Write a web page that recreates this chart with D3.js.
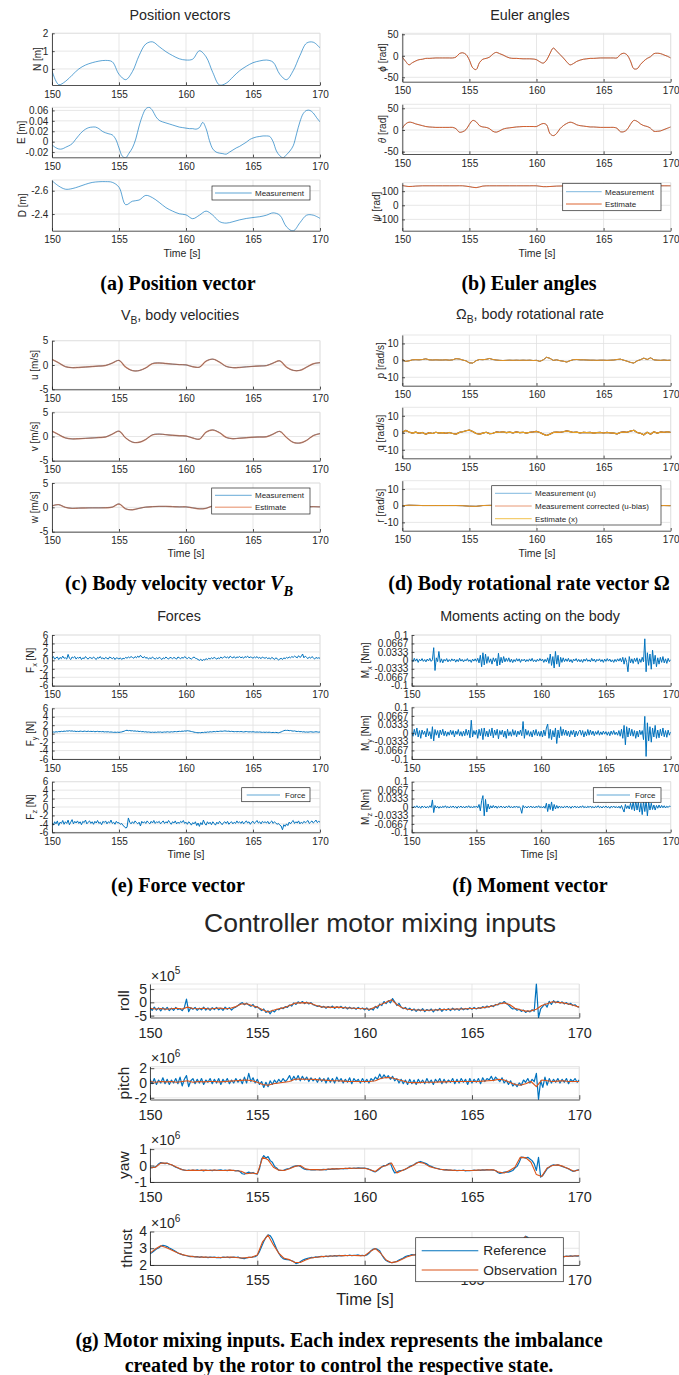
<!DOCTYPE html>
<html><head><meta charset="utf-8">
<script src="https://cdn.jsdelivr.net/npm/d3@7"></script>
<style>body{margin:0;background:#fff;}svg{display:block;}</style>
</head><body>
<script>
// ================= DATA =================
const timeTicks = [150,155,160,165,170];

// (a) position, 0.5 s / 0.25 s samples
const posN = [-0.1,-0.88,-0.7,-0.35,0.0,0.22,0.35,0.44,0.48,0.4,-0.3,-0.6,-0.15,0.75,1.4,1.52,1.25,0.97,0.75,0.57,0.5,0.55,1.02,0.68,-0.2,-0.9,-0.8,-0.45,-0.1,0.15,0.35,0.45,0.5,0.38,-0.3,-0.6,-0.1,0.75,1.45,1.5,1.18];
const posE = [
 -0.006,-0.011,-0.014,-0.014, -0.011,-0.008,-0.004,0.004, 0.012,0.019,0.024,0.027, 0.028,0.028,0.025,0.02,
 0.017,0.015,0.013,0.005, -0.012,-0.028,-0.031,-0.022, -0.012,0.005,0.03,0.05, 0.063,0.066,0.06,0.048,
 0.041,0.038,0.036,0.034, 0.032,0.03,0.028,0.027, 0.026,0.025,0.025,0.024, 0.027,0.037,0.025,0.002,
 -0.014,-0.02,-0.022,-0.023, -0.024,-0.02,-0.016,-0.012, -0.009,-0.005,-0.001,0.004, 0.007,0.009,0.01,0.011,
 0.011,0.01,0.0,-0.018, -0.027,-0.031,-0.025,-0.018, -0.008,0.015,0.038,0.054, 0.06,0.06,0.055,0.046, 0.038];
const posD = [-2.686,-2.64,-2.613,-2.618,-2.635,-2.655,-2.671,-2.677,-2.678,-2.672,-2.63,-2.48,-2.51,-2.52,-2.56,-2.54,-2.5,-2.455,-2.425,-2.402,-2.393,-2.36,-2.39,-2.425,-2.39,-2.335,-2.322,-2.334,-2.35,-2.362,-2.37,-2.377,-2.39,-2.41,-2.39,-2.29,-2.255,-2.325,-2.39,-2.39,-2.363];

// (b) Euler angles
const eulPhi = [
 -3,-13,-21,-16, -12,-9,-8,-6, -6,-5.5,-5,-5, -5,-5,-5,-5, -3,5,7,3,
 -10,-28,-32,-16, -8,-6,-3,4, 8,5,2,-2, -5,-6,-6,-6.5, -7,-7,-7,-7.5,
 -9,-14,-17,-10, 5,18,11,3, -5,-14,-21,-18, -13,-10,-8,-7, -6,-6,-5.5,-5,
 -5,-5,-5,-5, -5,3,6,2, -12,-30,-30,-20, -12,-6,-2,5, 6,5,2,-1, -5];
const eulTheta = [
 4,14,18,17, 14,12,10,8, 7,6.5,6,6, 6,6,6,6, 3,-5,-4,1,
 13,22,19,10, 7,6,3,-3, -5,-2,2,4, 5,6,7,7.5, 8,8,8,8,
 8,12,15,12, -8,-13,-8,3, 10,15,18,16, 12,10,9,8, 7,7,6.5,6,
 6,6,6,6, 4,-4,-4,1, 13,22,20,14, 10,8,4,-3, -3,-2,1,4, 7];
const eulPsi = [140,133,136,138,138,138,138,138,138,138,132,125,136,138,138,138,138,138,138,138,138,132,133,136,137,138,138,138,138,138,138,138,138,138,137,137,138,138,138,138,138];

// (c) body velocities, 0.5 s samples
const velU = [1.15,0.45,-0.35,-0.55,-0.5,-0.42,-0.32,-0.22,-0.1,0.4,0.95,-0.45,-1.15,-1.15,-0.6,0.3,0.42,0.3,0.18,0.08,0.02,-0.35,-0.45,0.8,1.2,0.6,-0.3,-0.55,-0.5,-0.38,-0.28,-0.2,-0.12,0.4,0.85,-0.45,-1.1,-1.1,-0.45,0.25,0.48];
const velV = [1.1,0.4,-0.3,-0.5,-0.45,-0.38,-0.3,-0.22,-0.1,0.5,1.1,-0.3,-1.15,-1.2,-0.6,0.35,0.5,0.38,0.25,0.15,0.1,-0.3,-0.55,0.9,1.35,0.8,-0.2,-0.45,-0.35,-0.25,-0.15,-0.1,-0.05,0.5,1.05,-0.2,-1.2,-1.35,-0.8,0.2,0.6];
const velW = [0.3,0.55,0.0,-0.2,-0.15,-0.12,-0.1,-0.1,-0.08,0.05,0.7,-0.3,-0.5,-0.2,0.05,0.15,0.2,0.2,0.15,0.1,0.1,-0.1,-0.3,-0.2,0.3,0.3,0.1,0.0,-0.05,-0.05,-0.05,0.0,0.0,0.1,0.2,-0.1,0.0,-0.1,0.1,0.15,0.1];

// (d) body rotational rates
const rateP = [
 0.5,-0.6,-0.3,0.3, 0.4,0.3,0.5,0.9, 0.3,0.2,0.3,0.2, 0.2,0.3,0.1,0.3, 1.0,0.8,0.2,-0.3,
 -1.5,-1.6,-0.2,0.5, 0.4,0.6,1.1,0.5, 0.2,0.0,-0.1,0.0, 0.1,0.0,0.1,0.0, 0.1,0.0,0.1,-0.1,
 0.0,-0.6,0.3,1.8, 1.2,0.0,0.3,-0.2, -0.5,-1.0,-0.2,0.4, 0.5,0.3,0.3,0.2, 0.1,0.1,0.0,0.1,
 0.1,0.0,0.1,0.2, 0.5,0.7,0.1,-0.5, -1.2,-1.6,-0.3,0.4, 1.3,0.5,1.5,0.3, 0.1,0.0,0.2,0.0, 0.1];
const rateQ = [
 0.3,1.4,0.5,-0.2, 0.4,-0.3,0.2,-0.9, 0.1,-0.4,0.3,-0.2, 0.1,-0.3,0.2,-0.4, -0.8,0.2,0.6,1.2,
 1.6,0.8,-0.4,-0.8, -0.2,0.3,-0.5,-0.3, 0.5,0.2,0.6,0.1, 0.4,0.0,0.5,0.1, 0.3,-0.2,0.3,0.5,
 0.8,0.2,-0.8,-1.6, -0.8,0.2,0.4,0.3, 0.6,1.1,0.7,0.2, 0.4,-0.1,0.3,0.1, 0.2,-0.2,0.1,0.2,
 -0.1,0.2,0.0,-0.2, -0.6,0.2,0.5,0.3, 1.0,1.5,0.2,-0.3, -1.2,0.3,-0.8,0.6, -0.2,0.5,0.3,0.6, 0.2];
const rateR = [0,0.3,0.2,0.1,0.1,0.1,0.1,0.1,0.1,0.0,-0.3,-0.4,0.1,0.2,0.2,0.1,0.1,0.1,0.1,0.1,0.0,0.1,0.2,0.1,0.1,0.1,0.1,0.1,0.0,0.1,0.1,0.1,0.1,0.1,0.0,0.1,0.1,0.1,0.0,0.1,0.0];

// (e) forces [N], 0.1 s samples
const forceX = [
 0.5,0.9,0.3,0.6,0.8,0.2,0.7,0.4,1.0,0.5, 0.6,0.3,1.4,0.5,0.2,0.8,0.6,0.9,0.3,0.7,
 0.5,0.8,0.2,0.6,0.4,0.9,0.5,0.3,0.7,0.6, 0.4,0.8,0.5,0.2,0.7,0.5,0.9,0.4,0.6,0.3,
 0.7,0.5,0.3,0.8,0.6,0.4,0.7,0.2,0.6,0.5, 0.3,0.6,0.2,0.5,0.4,0.7,0.5,0.8,0.6,0.9,
 0.7,0.5,0.9,0.6,1.0,0.7,1.2,0.8,0.6,0.9, 0.5,0.7,0.3,0.6,0.4,0.8,0.5,0.3,0.6,0.4,
 0.7,0.5,0.2,0.6,0.4,0.8,0.5,0.3,0.7,0.6, 0.4,0.7,0.5,0.3,0.8,0.6,0.4,0.7,0.5,0.9,
 0.6,0.4,0.7,0.5,0.3,0.6,0.8,0.5,0.4,0.2, 0.0,0.3,-0.1,0.2,0.1,0.4,0.2,0.5,0.3,0.6,
 0.4,0.7,0.5,0.3,0.6,0.4,0.8,0.5,0.7,0.9, 0.6,0.8,0.5,1.0,0.7,0.6,0.9,0.5,0.8,0.7,
 0.9,0.6,0.8,0.5,0.9,0.7,1.0,0.6,0.8,0.7, 0.5,0.8,0.6,0.9,0.5,0.7,0.4,0.8,0.6,0.5,
 0.7,0.4,0.6,0.3,0.7,0.5,0.2,0.6,0.4,0.1, 0.3,0.5,0.2,0.6,0.4,0.7,0.5,0.8,0.6,0.9,
 0.7,1.0,0.8,0.6,1.1,0.7,0.9,1.5,0.6,1.0, 0.7,0.4,0.8,0.5,0.9,0.6,0.3,0.7,0.5,0.6, 0.5];
const forceY = [
 0.3,0.4,0.35,0.45,0.4,0.5,0.45,0.55,0.5,0.6, 0.55,0.65,0.6,0.7,0.6,0.65,0.55,0.6,0.5,0.55,
 0.5,0.6,0.55,0.5,0.6,0.55,0.5,0.6,0.5,0.55, 0.5,0.55,0.45,0.5,0.55,0.45,0.5,0.45,0.5,0.4,
 0.45,0.4,0.45,0.35,0.4,0.35,0.3,0.35,0.3,0.35, 0.3,0.35,0.4,0.5,0.6,0.75,0.8,0.7,0.75,0.65,
 0.7,0.6,0.65,0.55,0.6,0.5,0.55,0.45,0.5,0.4, 0.45,0.35,0.4,0.35,0.3,0.35,0.3,0.35,0.3,0.4,
 0.35,0.4,0.3,0.35,0.4,0.35,0.45,0.4,0.35,0.45, 0.4,0.45,0.5,0.45,0.5,0.55,0.5,0.6,0.55,0.65,
 0.6,0.7,0.65,0.6,0.5,0.45,0.35,0.3,0.25,0.2, 0.25,0.2,0.3,0.25,0.35,0.3,0.4,0.35,0.45,0.4,
 0.45,0.5,0.45,0.55,0.5,0.55,0.6,0.55,0.6,0.65, 0.6,0.55,0.6,0.5,0.55,0.5,0.45,0.5,0.45,0.5,
 0.45,0.5,0.45,0.4,0.45,0.5,0.45,0.4,0.45,0.4, 0.45,0.4,0.35,0.4,0.35,0.4,0.35,0.3,0.35,0.3,
 0.35,0.3,0.35,0.3,0.25,0.3,0.25,0.3,0.25,0.2, 0.3,0.4,0.55,0.7,0.8,0.75,0.8,0.7,0.75,0.65,
 0.6,0.65,0.55,0.5,0.55,0.45,0.5,0.4,0.45,0.35, 0.4,0.35,0.4,0.45,0.4,0.35,0.4,0.45,0.4,0.35, 0.4];
const forceZ = [
 -3.7,-4.3,-3.5,-4.0,-3.3,-4.4,-3.6,-3.9,-3.2,-4.1, -3.5,-3.9,-3.1,-4.2,-3.6,-3.0,-4.0,-3.4,-3.8,-3.3,
 -3.9,-3.5,-4.2,-3.4,-3.7,-3.1,-4.0,-3.6,-3.3,-3.9, -3.5,-4.1,-3.4,-3.8,-3.2,-3.9,-3.6,-4.2,-3.4,-3.7,
 -3.3,-4.0,-3.5,-3.8,-3.1,-3.9,-3.6,-4.1,-3.4,-3.8, -3.7,-4.1,-3.9,-4.4,-4.6,-5.0,-4.8,-2.6,-3.6,-4.0,
 -3.5,-3.9,-3.3,-3.7,-4.0,-3.6,-4.5,-3.4,-3.8,-3.5, -3.9,-3.3,-3.7,-4.0,-3.4,-3.8,-3.2,-3.9,-3.5,-3.7,
 -3.4,-4.0,-3.6,-3.3,-3.9,-3.5,-3.8,-3.2,-3.7,-4.1, -3.5,-3.8,-3.3,-4.0,-3.6,-3.9,-3.4,-3.7,-3.2,-3.9,
 -3.6,-4.1,-3.5,-3.8,-4.3,-3.7,-4.0,-3.5,-4.4,-3.8, -4.6,-3.7,-4.2,-3.1,-3.9,-4.3,-3.5,-4.0,-3.6,-4.2,
 -3.5,-3.9,-4.3,-3.6,-4.0,-3.4,-3.8,-4.2,-3.7,-3.5, -3.9,-3.4,-4.1,-3.7,-3.5,-4.0,-3.6,-3.9,-3.3,-3.8,
 -3.5,-3.9,-3.4,-4.0,-3.6,-3.3,-3.8,-3.5,-4.1,-3.6, -3.4,-3.9,-3.6,-3.2,-3.8,-3.5,-4.0,-3.4,-3.7,-3.5,
 -3.8,-3.4,-4.0,-3.6,-3.3,-3.9,-3.5,-3.8,-4.1,-3.9, -4.3,-4.5,-5.4,-4.2,-4.6,-4.0,-4.4,-3.6,-4.0,-3.5,
 -3.2,-3.9,-3.5,-3.8,-3.3,-4.0,-3.6,-3.9,-3.4,-3.7, -3.5,-3.2,-3.9,-3.6,-3.3,-3.8,-3.5,-3.1,-3.7,-3.4, -3.6];

// (f) moments, in thousandths of Nm, 0.1 s samples
const momentXmilli = [
 2,-5,8,-3,6,-8,4,-2,7,-4, 3,-6,5,-2,8,-4,2,50,-40,10,
 -5,35,-8,6,-10,4,-3,7,-6,3, -4,6,-2,5,-7,3,-5,8,-3,4,
 -6,3,-2,7,-4,2,-8,5,-3,6, -4,8,-10,20,-25,30,-18,25,-12,15,
 -8,6,-15,10,-5,8,-22,28,-18,12, -10,15,-6,8,-4,10,-7,5,-9,3,
 -5,7,-3,6,-8,4,-2,5,-6,3, -4,6,-3,8,-5,2,-6,4,-3,7,
 -2,5,-8,4,-6,10,-12,25,-20,15, -30,35,-15,20,-25,12,-8,10,-5,6,
 -4,8,-6,3,-9,5,-2,7,-5,4, -6,3,-8,5,-3,7,-4,2,-6,8,
 -3,5,-7,4,-2,6,-5,3,-8,5, -4,7,-3,5,-6,2,-8,4,-5,6,
 -3,8,-6,12,-15,10,-8,-45,15,-10, 6,-12,8,-5,10,-15,6,-8,12,-6,
 85,-45,30,-20,25,-35,40,-15,20,-25, 10,-15,12,-8,15,-10,6,-12,8,-5, 3];
const momentYmilli = [
 5,-12,15,-8,20,-15,10,-20,12,-5, 8,-15,18,-10,6,-22,25,-30,14,-8,
 10,-18,12,-6,15,-10,8,-12,5,-8, 12,-6,10,-15,8,-5,14,-10,6,-12,
 8,-10,15,-8,12,-18,50,-15,10,-6, 12,-20,15,-10,18,-25,20,-12,8,-15,
 14,-10,20,-18,12,-8,15,-22,10,-6, 12,-15,8,-20,15,-10,6,-12,14,-8,
 10,-14,8,-6,12,-10,45,-20,15,-8, 10,-12,6,-15,12,-8,14,-10,6,-12,
 8,-15,12,-10,20,35,-20,15,-25,10, -15,20,-40,12,-18,25,-10,15,-8,12,
 -10,8,-14,10,-6,12,-15,8,-10,6, 12,-8,10,-15,6,-10,14,-8,12,-6,
 8,-10,6,-5,10,-8,5,-6,8,-4, 6,-8,5,-10,8,-5,10,-6,4,-8,
 10,-12,15,-20,30,-45,25,-15,20,-10, 15,-12,10,-20,8,-15,12,-6,10,-25,
 65,-90,40,-30,25,-35,20,-15,30,-20, 12,-18,15,-10,20,-14,10,-16,12,-8, 5];
const momentZmilli = [
 2,-4,3,-2,5,-3,2,-5,4,-2, 3,-4,2,-3,5,-2,28,-22,6,-4,
 3,-5,2,-4,3,-2,5,-3,2,-4, 3,-2,4,-3,2,-5,3,-2,4,-3,
 2,-4,3,-2,5,-3,2,-4,3,-2, 4,-3,10,-15,25,45,-35,30,-20,12,
 -8,5,-4,6,-3,4,-5,3,-2,4, -3,2,-4,3,-2,5,-3,2,-4,3,
 -2,4,-3,2,-5,-25,6,-3,2,-4, 3,-2,4,-3,2,-4,3,-2,5,-3,
 2,-4,3,-5,15,-18,12,-10,20,-15, 10,-8,6,-5,4,-3,2,-4,3,-2,
 4,-3,2,-5,3,-2,4,-3,2,-4, 3,-2,5,-3,2,-4,3,-2,4,-3,
 2,-4,3,-2,5,-3,2,-4,3,-2, 4,-3,2,-5,3,-2,4,-3,2,-4,
 3,-5,6,-8,-20,10,-6,5,-8,15, -10,20,-15,25,-12,18,-20,15,-30,22,
 -18,25,-35,20,-12,15,-10,8,-12,6, -5,8,-4,6,-3,5,-4,3,-2,4, 2];
const momentTickValues = [-0.1,-0.0667,-0.0333,0,0.0333,0.0667,0.1];
const momentTickLabels = ["-0.1","-0.0667","-0.0333","0","0.0333","0.0667","0.1"];

// (g) motor mixing inputs (roll in 1e5, others in 1e6)
const rollObs = [
 -2.2,-2.5,-2.3,-2.6, -2.4,-2.2,-2.5,-1.8, -2.3,-2.4,-2.2,-2.5, -2.3,-2.1,-2.4,-2.2, -1.6,-0.6,-0.5,-1.2,
 -1.8,-2.8,-3.6,-3.0, -2.4,-2.0,-1.2,-0.3, -0.2,-0.1,-0.4,-1.2, -1.7,-1.8,-1.9,-1.8, -2.0,-2.1,-2.2,-2.3,
 -2.4,-2.6,-1.8,-0.8, 0.0,1.0,-0.8,-2.0, -2.6,-2.8,-2.9,-3.0, -3.0,-2.9,-2.8,-2.7, -2.6,-2.5,-2.5,-2.4,
 -2.3,-2.2,-2.0,-1.7, -1.3,-0.6,-0.2,-0.8, -2.2,-2.8,-3.3,-3.2, -2.6,-1.2,-0.5,0.2, 0.0,-0.2,-0.6,-1.2, -1.8];
const rollRef = [
 -2.0,-3.0,-1.8,-2.9,-2.1,-3.2,-2.0,-2.8,-1.9,-3.1, -2.2,-3.0,-1.9,-2.7,-2.4,-3.1,-2.0,1.2,-3.5,-2.0,
 -2.6,-1.9,-3.0,-2.2,-2.8,-1.8,-2.9,-2.1,-3.0,-2.0, -2.7,-1.9,-2.8,-2.2,-3.0,-1.8,-2.6,-2.0,-2.9,-2.1,
 -1.8,-1.2,-0.5,-0.1,-0.9,-0.3,-1.0,-1.5,-0.8,-2.0, -1.6,-2.4,-3.1,-2.5,-3.8,-3.2,-4.3,-3.0,-3.6,-2.6,
 -2.8,-2.1,-2.4,-1.6,-1.9,-1.0,-1.4,-0.2,-0.8,0.2, -0.3,0.3,-0.5,0.1,-0.6,-0.1,-0.9,-1.2,-1.5,-1.3,
 -1.9,-1.5,-2.2,-1.6,-2.0,-1.4,-2.3,-1.6,-2.1,-1.5, -2.3,-1.7,-2.5,-1.8,-2.4,-2.0,-2.6,-1.9,-2.5,-2.1,
 -2.8,-2.1,-3.0,-2.3,-2.9,-1.5,-2.2,-0.6,-1.2,0.3, -0.5,0.6,-0.2,1.4,0.2,-1.2,-0.4,-1.8,-2.4,-1.9,
 -2.8,-2.2,-3.1,-2.5,-3.4,-2.6,-3.2,-2.4,-3.5,-2.7, -3.2,-2.5,-3.6,-2.6,-3.1,-2.3,-3.4,-2.5,-3.0,-2.4,
 -3.1,-2.2,-2.9,-2.4,-3.0,-2.1,-2.8,-2.3,-2.7,-2.0, -2.6,-1.9,-2.5,-2.0,-2.3,-1.6,-2.1,-1.4,-1.8,-1.2,
 -1.6,-0.8,-1.0,-0.2,-0.5,0.3,-0.4,-1.0,-1.9,-2.5, -2.3,-3.0,-2.6,-3.4,-2.9,-3.8,-3.2,-3.6,-2.8,-3.3,
 7.0,-5.7,-2.5,-1.5,-0.6,-1.8,0.4,-0.8,0.6,-0.2, 0.4,-0.3,0.2,-0.6,-0.1,-0.8,-0.4,-1.2,-0.9,-1.6, -1.8];
const pitchObs = [
 0.2,0.1,0.2,0.15, 0.2,0.1,0.2,0.3, 0.1,0.2,0.15,0.2, 0.2,0.15,0.2,0.25, 0.3,0.35,0.4,0.3,
 0.1,-0.2,-0.3,-0.1, 0.0,0.1,0.2,0.5, 0.55,0.5,0.5,0.45, 0.4,0.35,0.3,0.3, 0.25,0.2,0.2,0.2,
 0.2,0.2,0.3,0.6, 0.75,0.7,0.5,0.3, 0.1,0.05,0.05,0.1, 0.1,0.1,0.15,0.15, 0.2,0.2,0.2,0.2,
 0.2,0.2,0.25,0.3, 0.35,0.5,0.4,0.1, -0.2,-0.3,-0.1,0.2, -0.5,0.4,0.3,0.2, 0.25,0.3,0.2,0.2, 0.2];
const pitchRef = [
 0.5,-0.1,0.6,-0.2,0.4,0.0,0.7,-0.1,0.5,-0.2, 0.4,0.0,0.6,-0.1,0.8,-0.4,0.5,1.0,-0.5,0.3,
 0.6,-0.1,0.5,0.0,0.6,-0.2,0.4,0.1,0.6,-0.1, 0.5,0.0,0.6,-0.2,0.5,0.1,0.6,-0.1,0.4,0.0,
 0.6,0.1,0.5,-0.1,0.8,0.0,1.3,0.2,0.7,0.0, 0.5,-0.2,0.2,-0.6,0.1,-0.5,0.3,-0.2,0.4,0.0,
 0.5,0.1,0.6,0.2,0.5,1.0,0.3,0.9,0.4,1.0, 0.3,0.9,0.4,0.8,0.2,0.7,0.3,0.6,0.1,0.7,
 0.2,0.6,0.0,0.7,0.1,0.6,0.0,0.8,0.2,0.6, 0.0,0.5,0.1,0.7,-0.1,0.6,0.2,0.5,0.0,0.6,
 0.1,0.5,0.0,0.6,0.3,0.8,0.5,1.2,0.6,1.1, 0.7,1.0,0.5,0.9,0.3,0.6,0.0,0.5,-0.1,0.4,
 -0.2,0.5,-0.1,0.4,-0.2,0.5,0.0,0.4,-0.1,0.6, 0.0,0.4,-0.2,0.5,0.1,0.6,-0.1,0.5,0.0,0.4,
 0.1,0.6,-0.1,0.5,0.0,0.6,0.1,0.5,-0.2,0.6, 0.0,0.5,0.1,0.6,-0.1,0.7,0.2,0.6,0.4,0.9,
 0.3,0.8,0.5,0.2,0.7,0.0,0.4,-0.2,0.3,-0.4, -0.1,-0.5,0.0,-0.3,0.4,0.1,0.6,0.0,0.5,0.2,
 1.3,-2.2,0.3,-0.6,0.8,-0.3,0.6,0.0,0.5,0.1, 0.6,0.0,0.5,0.1,0.6,-0.1,0.5,0.2,0.6,0.1, 0.4];
const yawObs = [
 -0.15,-0.1,0.15,0.15, 0.05,-0.1,-0.25,-0.3, -0.28,-0.3,-0.28,-0.3, -0.27,-0.3,-0.3,-0.28, -0.32,-0.35,-0.5,-0.45,
 -0.5,0.5,0.35,-0.1, -0.28,-0.3,-0.2,-0.05, 0.0,-0.2,-0.25,-0.25, -0.26,-0.22,-0.2,-0.2, -0.18,-0.17,-0.16,-0.16,
 -0.16,-0.25,-0.36,-0.1, 0.0,0.15,-0.45,-0.3, -0.15,0.0,0.2,0.15, -0.05,-0.15,-0.22,-0.26, -0.28,-0.3,-0.3,-0.3,
 -0.3,-0.28,-0.27,-0.26, -0.26,-0.4,-0.45,-0.3, -0.1,0.5,0.48,0.2, -0.55,-0.66,-0.15,0.0, 0.04,-0.05,-0.2,-0.35, -0.26];
const yawRef = [
 -0.15,-0.12,-0.1,-0.05,0.1,0.18,0.15,0.12,0.15,0.08, 0.05,-0.02,-0.1,-0.15,-0.2,-0.25,-0.28,-0.3,-0.27,-0.3,
 -0.28,-0.3,-0.26,-0.3,-0.28,-0.32,-0.27,-0.3,-0.28,-0.31, -0.27,-0.3,-0.28,-0.26,-0.3,-0.28,-0.31,-0.27,-0.3,-0.29,
 -0.32,-0.3,-0.38,-0.5,-0.52,-0.45,-0.4,-0.46,-0.42,-0.5, -0.52,-0.2,0.4,0.6,0.45,0.55,0.3,0.2,-0.05,-0.15,
 -0.28,-0.3,-0.3,-0.25,-0.2,-0.18,-0.1,-0.05,-0.02,0.0, -0.05,-0.15,-0.22,-0.25,-0.24,-0.26,-0.25,-0.27,-0.24,-0.26,
 -0.25,-0.23,-0.26,-0.22,-0.24,-0.2,-0.22,-0.19,-0.21,-0.18, -0.2,-0.17,-0.19,-0.16,-0.18,-0.15,-0.17,-0.14,-0.16,-0.15,
 -0.16,-0.18,-0.22,-0.28,-0.35,-0.38,-0.3,-0.2,-0.08,0.0, 0.0,0.1,0.15,-0.2,-0.45,-0.4,-0.32,-0.3,-0.28,-0.22,
 -0.15,-0.05,0.0,0.05,0.15,0.2,0.25,0.2,0.15,0.1, 0.0,-0.05,-0.1,-0.15,-0.18,-0.22,-0.24,-0.26,-0.25,-0.28,
 -0.27,-0.3,-0.28,-0.31,-0.29,-0.3,-0.28,-0.32,-0.3,-0.31, -0.3,-0.28,-0.3,-0.27,-0.29,-0.26,-0.28,-0.25,-0.27,-0.26,
 -0.28,-0.3,-0.42,-0.48,-0.45,-0.4,-0.38,-0.4,-0.35,-0.3, -0.15,-0.05,0.2,0.52,0.5,0.45,0.5,0.4,0.3,0.1,
 -0.3,0.5,-0.7,-0.6,-0.4,-0.2,-0.1,0.0,0.05,0.02, 0.04,0.0,-0.05,-0.1,-0.15,-0.2,-0.28,-0.35,-0.32,-0.28, -0.26];
const thrustObs = [
 2.71,2.95,3.15,3.05, 2.9,2.75,2.62,2.55, 2.5,2.48,2.47,2.46, 2.45,2.45,2.46,2.47, 2.45,2.42,2.44,2.47,
 2.6,3.4,3.78,3.2, 2.7,2.4,2.32,2.15, 2.15,2.3,2.42,2.46, 2.5,2.52,2.54,2.55, 2.56,2.57,2.57,2.56,
 2.55,2.8,2.98,2.7, 2.3,2.14,2.2,2.35, 2.5,2.6,2.62,2.6, 2.58,2.56,2.55,2.55, 2.54,2.55,2.56,2.56,
 2.57,2.56,2.55,2.55, 2.56,2.55,2.54,2.6, 2.9,3.4,3.7,3.3, 2.7,2.45,2.5,2.55, 2.52,2.5,2.52,2.54, 2.55];
const thrustRef = [
 2.68,2.75,2.85,2.95,3.02,3.12,3.18,3.15,3.1,3.02, 2.95,2.88,2.8,2.72,2.66,2.62,2.58,2.55,2.52,2.5,
 2.52,2.48,2.5,2.46,2.49,2.45,2.48,2.44,2.47,2.45, 2.47,2.44,2.46,2.43,2.47,2.45,2.48,2.44,2.46,2.47,
 2.45,2.48,2.42,2.4,2.38,2.43,2.46,2.45,2.48,2.5, 2.58,2.8,3.1,3.4,3.65,3.8,3.75,3.55,3.25,2.95,
 2.7,2.5,2.38,2.34,2.32,2.3,2.25,2.2,2.08,2.12, 2.2,2.28,2.34,2.38,2.42,2.45,2.44,2.48,2.47,2.5,
 2.52,2.49,2.53,2.5,2.55,2.52,2.56,2.53,2.57,2.55, 2.56,2.58,2.55,2.59,2.56,2.58,2.57,2.6,2.56,2.58,
 2.55,2.6,2.7,2.85,2.95,2.98,2.93,2.85,2.6,2.4, 2.27,2.2,2.16,2.14,2.18,2.22,2.3,2.36,2.42,2.5,
 2.55,2.58,2.62,2.6,2.64,2.62,2.6,2.59,2.58,2.57, 2.56,2.57,2.55,2.58,2.54,2.57,2.55,2.56,2.54,2.57,
 2.55,2.56,2.54,2.57,2.55,2.58,2.56,2.55,2.57,2.56, 2.58,2.56,2.57,2.55,2.56,2.54,2.57,2.55,2.56,2.55,
 2.57,2.55,2.56,2.54,2.55,2.53,2.56,2.55,2.58,2.62, 2.7,2.85,3.05,3.3,3.55,3.72,3.65,3.4,3.05,2.8,
 2.6,2.4,2.5,2.45,2.52,2.56,2.53,2.55,2.51,2.5, 2.52,2.49,2.51,2.5,2.53,2.51,2.54,2.52,2.55,2.53, 2.55];

// ================= DRAWING =================
const svg = d3.select("body").append("svg").attr("width",679).attr("height",1375);
svg.append("rect").attr("width",679).attr("height",1375).attr("fill","#fff");
const SANS = "'Liberation Sans', Arial, Helvetica, sans-serif";
const SERIF = "'Liberation Serif', 'Times New Roman', serif";
const AX = "#262626", GRID = "#e1e1e1";
const BLUE = "#0072BD", ORANGE = "#D95319", YELLOW = "#EDB120";
let clipN = 0;

function pts(vals, step, k){ k = k || 1; return vals.map((v,i)=>[150+i*step, v*k]); }

function addParts(t, parts, fs){
  let shift = 0;
  parts.forEach(p=>{
    const s = t.append("tspan").text(p.t);
    let want = 0;
    if(p.sub) want = fs*0.3;
    if(p.sup) want = -fs*0.45;
    if(want !== shift){ s.attr("dy", want-shift); shift = want; }
    if(p.sub || p.sup) s.attr("font-size", fs*0.72);
    if(p.it) s.attr("font-style","italic");
  });
}
function label(x, y, parts, fs, opt){
  opt = opt || {};
  const t = svg.append("text").attr("x",x).attr("y",y + fs*0.35)
    .attr("text-anchor", opt.anchor || "middle")
    .attr("font-family", opt.family || SANS).attr("font-size", fs)
    .attr("font-weight", opt.weight || "normal").attr("fill", opt.color || AX);
  addParts(t, typeof parts === "string" ? [{t:parts}] : parts, fs);
  return t;
}
function ylabel(cx, cy, parts, fs){
  const t = svg.append("text").attr("transform",`translate(${cx+fs*0.35},${cy}) rotate(-90)`)
    .attr("text-anchor","middle").attr("font-family",SANS).attr("font-size",fs).attr("fill",AX);
  addParts(t, typeof parts === "string" ? [{t:parts}] : parts, fs);
}

function panel(c){
  const x = d3.scaleLinear().domain([150,170]).range([c.l,c.r]);
  const y = d3.scaleLinear().domain(c.dom).range(c.rev ? [c.t,c.b] : [c.b,c.t]);
  const g = svg.append("g");
  g.append("g").selectAll("line").data(timeTicks).join("line")
    .attr("x1",d=>x(d)).attr("x2",d=>x(d)).attr("y1",c.t).attr("y2",c.b)
    .attr("stroke",GRID).attr("stroke-width",0.8);
  g.append("g").selectAll("line").data(c.yt).join("line")
    .attr("x1",c.l).attr("x2",c.r).attr("y1",d=>y(d)).attr("y2",d=>y(d))
    .attr("stroke",GRID).attr("stroke-width",0.8);
  g.append("path").attr("d",`M${c.l},${c.t}H${c.r}V${c.b}`).attr("fill","none")
    .attr("stroke",GRID).attr("stroke-width",0.8);
  const id = "clip"+(clipN++);
  svg.append("clipPath").attr("id",id).append("rect")
    .attr("x",c.l).attr("y",c.t-0.5).attr("width",c.r-c.l).attr("height",c.b-c.t+1);
  const lg = g.append("g").attr("clip-path",`url(#${id})`);
  c.series.forEach(s=>{
    lg.append("path").datum(s.pts).attr("fill","none")
      .attr("stroke",s.color).attr("stroke-width",s.w || 0.8).attr("stroke-opacity",s.op || 1)
      .attr("stroke-linejoin","round")
      .attr("d", d3.line().x(d=>x(d[0])).y(d=>y(d[1])).curve(s.smooth ? d3.curveCatmullRom.alpha(0.5) : d3.curveLinear));
  });
  const xa = d3.axisBottom(x).tickValues(timeTicks).tickSizeInner(-c.tl).tickSizeOuter(0)
    .tickPadding(c.xpad).tickFormat(d=>String(d));
  g.append("g").attr("transform",`translate(0,${c.b})`).call(xa)
    .attr("font-size",c.fs).attr("font-family",SANS).attr("color",AX)
    .call(a=>a.selectAll("path,line").attr("stroke-width",0.8));
  const ya = d3.axisLeft(y).tickValues(c.yt).tickSizeInner(-c.tl).tickSizeOuter(0)
    .tickPadding(c.ypad).tickFormat(c.yfmt || (d=>String(d)));
  g.append("g").attr("transform",`translate(${c.l},0)`).call(ya)
    .attr("font-size",c.yfs || c.fs).attr("font-family",SANS).attr("color",AX)
    .call(a=>a.selectAll("path,line").attr("stroke-width",0.8));
  if(c.ylab) ylabel(c.ylx, (c.t+c.b)/2, c.ylab, c.ylfs || c.fs);
  return {x,y};
}

function legend(b, items, fs){
  svg.append("rect").attr("x",b.x0).attr("y",b.y0).attr("width",b.x1-b.x0).attr("height",b.y1-b.y0)
    .attr("fill","#fff").attr("stroke",AX).attr("stroke-width",0.7);
  items.forEach((it,i)=>{
    svg.append("line").attr("x1",b.lx0).attr("x2",b.lx1).attr("y1",b.rows[i]).attr("y2",b.rows[i])
      .attr("stroke",it.color).attr("stroke-width",it.w || 0.9).attr("stroke-opacity",it.op || 1);
    label(b.tx, b.rows[i], it.label, fs, {anchor:"start"});
  });
}

// common config for small panels
const small = {fs:10, tl:2.7, xpad:5.5, ypad:3.6};
const Lx = {l:52, r:320}, Rx = {l:402.3, r:670.7};
const TFS = 14.3;

// ---------- (a) Position vectors ----------
label(180, 15, "Position vectors", TFS);
const posLine = v => [{pts:v, color:BLUE, w:0.8, op:0.8, smooth:true}];
panel({...small, ...Lx, t:33.3, b:85, dom:[-0.9,2], yt:[0,1,2], ylab:"N [m]", ylx:37, series:posLine(pts(posN,0.5))});
panel({...small, ...Lx, t:107.3, b:157.3, dom:[-0.03,0.066], yt:[-0.02,0,0.02,0.04,0.06], ylab:"E [m]", ylx:21, series:posLine(pts(posE,0.25))});
panel({...small, ...Lx, t:180, b:230.7, dom:[-2.692,-2.257], rev:true, yt:[-2.6,-2.4], ylab:"D [m]", ylx:22, series:posLine(pts(posD,0.5))});
label(182, 253, "Time [s]", 10.5);
legend({x0:212,y0:186,x1:310,y1:200,lx0:215,lx1:251.7,tx:255,rows:[193]},
  [{label:"Measurement", color:BLUE, w:0.8, op:0.8}], 8);

// ---------- (b) Euler angles ----------
label(530, 15, "Euler angles", TFS);
const eulLine = v => [{pts:v, color:BLUE, w:0.6, op:0.6, smooth:true},{pts:v, color:ORANGE, w:1.0, op:0.9, smooth:true}];
panel({...small, ...Rx, ypad:3.8, t:33.3, b:81.7, dom:[-60.2,52.3], yt:[-50,0,50],
  ylab:[{t:"ϕ",it:true},{t:" [rad]"}], ylx:382, series:eulLine(pts(eulPhi,0.25))});
panel({...small, ...Rx, ypad:3.8, t:104.3, b:154, dom:[-55.3,59.2], yt:[-50,0,50],
  ylab:[{t:"θ",it:true},{t:" [rad]"}], ylx:382, series:eulLine(pts(eulTheta,0.25))});
panel({...small, ...Rx, ypad:3.8, t:182.7, b:230.7, dom:[-180,160], yt:[-100,0,100],
  ylab:[{t:"ψ",it:true},{t:" [rad]"}], ylx:376, series:eulLine(pts(eulPsi,0.5))});
label(537, 253, "Time [s]", 10.5);
legend({x0:562.7,y0:183.3,x1:661,y1:210.7,lx0:566,lx1:601.7,tx:605,rows:[191.7,204]},
  [{label:"Measurement", color:BLUE, w:1, op:0.5},{label:"Estimate", color:ORANGE, w:0.9}], 8);

// ---------- (c) body velocities ----------
label(180, 315, [{t:"V"},{t:"B",sub:true},{t:", body velocities"}], TFS);
const velSeries = v => [{pts:pts(v,0.5), color:BLUE, w:1, op:0.8, smooth:true},{pts:pts(v,0.5), color:ORANGE, w:1.4, op:0.6, smooth:true}];
panel({...small, ...Lx, t:340.7, b:389.3, dom:[-5,5], yt:[-5,0,5], ylab:"u [m/s]", ylx:34, series:velSeries(velU)});
panel({...small, ...Lx, t:412.3, b:460.7, dom:[-5,5], yt:[-5,0,5], ylab:"v [m/s]", ylx:34, series:velSeries(velV)});
panel({...small, ...Lx, t:483, b:531.7, dom:[-5,5], yt:[-5,0,5], ylab:"w [m/s]", ylx:34, series:velSeries(velW)});
label(186, 553, "Time [s]", 10.5);
legend({x0:211.7,y0:488,x1:310,y1:514,lx0:215,lx1:251.7,tx:255,rows:[495.3,507.3]},
  [{label:"Measurement", color:BLUE, w:1, op:0.6},{label:"Estimate", color:ORANGE, w:1.6, op:0.45}], 8);

// ---------- (d) body rotational rate ----------
label(530, 314, [{t:"Ω"},{t:"B",sub:true},{t:", body rotational rate"}], TFS);
const rateSeries = (v,st,w) => [{pts:pts(v,st), color:BLUE, w:w}, {pts:pts(v,st), color:ORANGE, w:w}, {pts:pts(v,st), color:YELLOW, w:w*0.9, op:0.85}];
panel({...small, ...Rx, ypad:3.8, t:335, b:385.7, dom:[-15,15], yt:[-10,0,10], ylab:"p [rad/s]", ylx:380, series:rateSeries(rateP,0.25,0.9)});
panel({...small, ...Rx, ypad:3.8, t:407.3, b:458.3, dom:[-15,15], yt:[-10,0,10], ylab:"q [rad/s]", ylx:380, series:rateSeries(rateQ,0.25,1.2)});
panel({...small, ...Rx, ypad:3.8, t:480.7, b:530.7, dom:[-15,15], yt:[-10,0,10], ylab:"r [rad/s]", ylx:380, series:rateSeries(rateR,0.5,0.9)});
label(537, 553, "Time [s]", 10.5);
legend({x0:491.7,y0:485.7,x1:661,y1:525,lx0:495,lx1:531.7,tx:535,rows:[493.3,506,518.7]},
  [{label:"Measurement (u)", color:BLUE, w:1, op:0.5},{label:"Measurement corrected (u-bias)", color:ORANGE, w:1, op:0.6},{label:"Estimate (x)", color:YELLOW, w:1, op:0.8}], 8);

// ---------- (e) Forces ----------
label(179, 616, "Forces", TFS);
const fTicks = [-6,-4,-2,0,2,4,6];
panel({...small, ...Lx, t:635, b:685.7, dom:[-6,6], yt:fTicks, ylab:[{t:"F"},{t:"x",sub:true},{t:" [N]"}], ylx:30,
  series:[{pts:pts(forceX,0.1), color:BLUE, w:1.0}]});
panel({...small, ...Lx, t:708.3, b:759, dom:[-6,6], yt:fTicks, ylab:[{t:"F"},{t:"y",sub:true},{t:" [N]"}], ylx:30,
  series:[{pts:pts(forceY,0.1), color:BLUE, w:1.0}]});
panel({...small, ...Lx, t:781.7, b:832.3, dom:[-6,6], yt:fTicks, ylab:[{t:"F"},{t:"z",sub:true},{t:" [N]"}], ylx:30,
  series:[{pts:pts(forceZ,0.1), color:BLUE, w:1.0}]});
label(186, 854, "Time [s]", 10.5);
legend({x0:241.7,y0:787.7,x1:310,y1:801.7,lx0:246.7,lx1:280,tx:285,rows:[795]},
  [{label:"Force", color:BLUE, w:0.9, op:0.7}], 8);

// ---------- (f) Moments ----------
label(530, 616, "Moments acting on the body", TFS);
const Fxr = {l:411.7, r:670.7};
const mFmt = d => momentTickLabels[momentTickValues.indexOf(d)];
panel({...small, ...Fxr, ypad:3.4, t:635, b:685.7, dom:[-0.1,0.1], yt:momentTickValues, yfmt:mFmt,
  ylab:[{t:"M"},{t:"x",sub:true},{t:" [Nm]"}], ylx:365, series:[{pts:pts(momentXmilli,0.1,0.001), color:BLUE, w:1.0}]});
panel({...small, ...Fxr, ypad:3.4, t:707.3, b:759, dom:[-0.1,0.1], yt:momentTickValues, yfmt:mFmt,
  ylab:[{t:"M"},{t:"y",sub:true},{t:" [Nm]"}], ylx:365, series:[{pts:pts(momentYmilli,0.1,0.001), color:BLUE, w:1.0}]});
panel({...small, ...Fxr, ypad:3.4, t:781.7, b:832.3, dom:[-0.1,0.1], yt:momentTickValues, yfmt:mFmt,
  ylab:[{t:"M"},{t:"z",sub:true},{t:" [Nm]"}], ylx:365, series:[{pts:pts(momentZmilli,0.1,0.001), color:BLUE, w:1.0}]});
label(539, 854, "Time [s]", 10.5);
legend({x0:593.3,y0:787.7,x1:661,y1:802.3,lx0:596.7,lx1:630,tx:635,rows:[795]},
  [{label:"Force", color:BLUE, w:0.9, op:0.7}], 8);

// ---------- captions (a)-(f) ----------
const capFs = 20;
const capOpt = {family:SERIF, weight:"bold", color:"#000"};
label(178, 283, "(a) Position vector", capFs, capOpt);
label(529, 283, "(b) Euler angles", capFs, capOpt);
label(179, 583, [{t:"(c) Body velocity vector "},{t:"V",it:true},{t:"B",sub:true,it:true}], capFs, capOpt);
label(529, 583, "(d) Body rotational rate vector Ω", capFs, capOpt);
label(178, 885, "(e) Force vector", capFs, capOpt);
label(530, 885, "(f) Moment vector", capFs, capOpt);

// ---------- (g) Motor mixing ----------
label(380, 923, "Controller motor mixing inputs", 26.5);
const big = {fs:14.4, yfs:14, tl:4.3, xpad:10, ypad:3, l:150, r:579.3, ylfs:15.5};
const mm = [
  {name:"roll", obs:rollObs, ref:rollRef, t:984, b:1017.5, dom:[-5.7,6.9], yt:[-5,0,5], exp:"5", ylx:124},
  {name:"pitch", obs:pitchObs, ref:pitchRef, t:1066.5, b:1099.5, dom:[-2.23,2.23], yt:[-2,0,2], exp:"6", ylx:124},
  {name:"yaw", obs:yawObs, ref:yawRef, t:1148.3, b:1182, dom:[-1,1.05], yt:[-1,0,1], exp:"6", ylx:124},
  {name:"thrust", obs:thrustObs, ref:thrustRef, t:1231.5, b:1265, dom:[2,4], yt:[2,3,4], exp:"6", ylx:126.5}
];
mm.forEach(m=>{
  panel({...big, t:m.t, b:m.b, dom:m.dom, yt:m.yt, ylab:m.name, ylx:m.ylx,
    series:[{pts:pts(m.ref,0.1), color:BLUE, w:1.2},{pts:pts(m.obs,0.25), color:ORANGE, w:1.1}]});
  const t = svg.append("text").attr("x",151).attr("y",m.t-3.5).attr("font-family",SANS).attr("font-size",14).attr("fill",AX);
  addParts(t,[{t:"×10"},{t:m.exp,sup:true}],14);
});
label(365, 1299, "Time [s]", 16.4);
legend({x0:415.7,y0:1237.7,x1:563.3,y1:1281.7,lx0:421.7,lx1:478.3,tx:483.3,rows:[1250.7,1270]},
  [{label:"Reference", color:BLUE, w:1.1},{label:"Observation", color:ORANGE, w:1.1}], 13.7);
label(339, 1340, "(g) Motor mixing inputs.  Each index represents the imbalance", capFs, capOpt);
label(339, 1365, "created by the rotor to control the respective state.", capFs, capOpt);
</script>
</body></html>
